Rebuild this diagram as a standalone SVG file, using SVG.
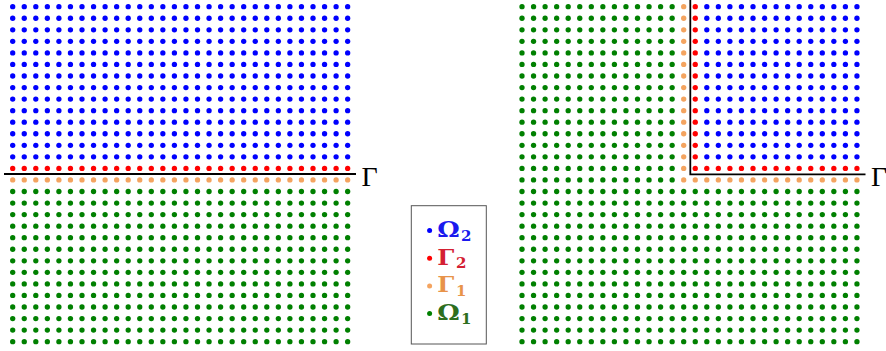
<svg xmlns="http://www.w3.org/2000/svg" xmlns:xlink="http://www.w3.org/1999/xlink" width="886" height="351" viewBox="0 0 886 351">
<style>
.b{fill:#0000ff}.r{fill:#ff0000}.o{fill:#f4a460}.g{fill:#008000}
.ln{fill:none;stroke:#000;stroke-width:1.8}
.gl{font-family:"Liberation Serif","Times New Roman",serif;font-size:28px;fill:#000}
.lg{font-family:"DejaVu Serif","Liberation Serif",serif;font-weight:bold}
.big{font-size:23px}.sub{font-size:15px}
</style>
<defs>
<circle id="d" r="2.65"/>
<g id="row14">
<use href="#d" x="0"/><use href="#d" x="11.55"/><use href="#d" x="23.1"/><use href="#d" x="34.65"/><use href="#d" x="46.2"/><use href="#d" x="57.75"/><use href="#d" x="69.3"/><use href="#d" x="80.85"/><use href="#d" x="92.4"/><use href="#d" x="103.95"/><use href="#d" x="115.5"/><use href="#d" x="127.05"/><use href="#d" x="138.6"/><use href="#d" x="150.15"/>
</g>
<g id="row30">
<use href="#row14"/><use href="#d" x="161.7"/><use href="#d" x="173.25"/><use href="#row14" x="184.8"/>
</g>
<g id="col14">
<use href="#d" y="0"/><use href="#d" y="11.55"/><use href="#d" y="23.1"/><use href="#d" y="34.65"/><use href="#d" y="46.2"/><use href="#d" y="57.75"/><use href="#d" y="69.3"/><use href="#d" y="80.85"/><use href="#d" y="92.4"/><use href="#d" y="103.95"/><use href="#d" y="115.5"/><use href="#d" y="127.05"/><use href="#d" y="138.6"/><use href="#d" y="150.15"/>
</g>
<g id="blk14x14">
<use href="#row14" y="0"/><use href="#row14" y="11.55"/><use href="#row14" y="23.1"/><use href="#row14" y="34.65"/><use href="#row14" y="46.2"/><use href="#row14" y="57.75"/><use href="#row14" y="69.3"/><use href="#row14" y="80.85"/><use href="#row14" y="92.4"/><use href="#row14" y="103.95"/><use href="#row14" y="115.5"/><use href="#row14" y="127.05"/><use href="#row14" y="138.6"/><use href="#row14" y="150.15"/>
</g>
<g id="blk30x14">
<use href="#row30" y="0"/><use href="#row30" y="11.55"/><use href="#row30" y="23.1"/><use href="#row30" y="34.65"/><use href="#row30" y="46.2"/><use href="#row30" y="57.75"/><use href="#row30" y="69.3"/><use href="#row30" y="80.85"/><use href="#row30" y="92.4"/><use href="#row30" y="103.95"/><use href="#row30" y="115.5"/><use href="#row30" y="127.05"/><use href="#row30" y="138.6"/><use href="#row30" y="150.15"/>
</g>
</defs>

<g id="left-grid">
<use href="#blk30x14" class="b" x="12.7" y="6.7"/>
<use href="#row30" class="r" x="12.7" y="168.4"/>
<use href="#row30" class="o" x="12.7" y="179.95"/>
<use href="#blk30x14" class="g" x="12.7" y="191.5"/>
</g>

<g id="right-grid">
<use href="#blk14x14" class="g" x="522" y="6.7"/>
<use href="#row14" class="g" x="522" y="168.4"/>
<use href="#row14" class="g" x="522" y="179.95"/>
<use href="#col14" class="o" x="683.7" y="6.7"/>
<use href="#d" class="o" x="683.7" y="168.4"/>
<use href="#row14" class="o" x="683.7" y="179.95"/>
<use href="#d" class="o" x="845.4" y="179.95"/>
<use href="#d" class="o" x="856.95" y="179.95"/>
<use href="#col14" class="r" x="695.25" y="6.7"/>
<use href="#row14" class="r" x="695.25" y="168.4"/>
<use href="#d" class="r" x="856.95" y="168.4"/>
<use href="#blk14x14" class="b" x="706.8" y="6.7"/>
<use href="#blk30x14" class="g" x="522" y="191.5"/>
</g>

<g id="connectors">
<path class="ln" d="M4 174 H356"/>
<path class="ln" d="M690.3 0 V174.3 H865.5"/>
</g>

<g id="gamma-left"><text class="gl" x="361.5" y="185.5">Γ</text></g>
<g id="gamma-right"><text class="gl" x="871" y="185.5">Γ</text></g>

<g id="legend">
<rect x="411.3" y="205.7" width="75" height="138.3" fill="#fff" stroke="#555" stroke-width="1"/>
<circle cx="429.6" cy="230.5" r="2.5" class="b"/>
<text class="lg big" x="437.3" y="236.8" fill="#1a1aee" textLength="22.5" lengthAdjust="spacingAndGlyphs">Ω</text>
<text class="lg sub" x="461" y="240.5" fill="#1a1aee">2</text>
<circle cx="429.6" cy="258.3" r="2.5" class="r"/>
<text class="lg big" x="437.3" y="264.6" fill="#d42032" textLength="17" lengthAdjust="spacingAndGlyphs">Γ</text>
<text class="lg sub" x="456" y="268.3" fill="#d42032">2</text>
<circle cx="429.6" cy="286" r="2.5" class="o"/>
<text class="lg big" x="437.3" y="292.3" fill="#e8934a" textLength="17" lengthAdjust="spacingAndGlyphs">Γ</text>
<text class="lg sub" x="456" y="296" fill="#e8934a">1</text>
<circle cx="429.6" cy="313.5" r="2.5" class="g"/>
<text class="lg big" x="437.3" y="320" fill="#2d6e1e" textLength="22.5" lengthAdjust="spacingAndGlyphs">Ω</text>
<text class="lg sub" x="461" y="323.8" fill="#2d6e1e">1</text>
</g>
</svg>
